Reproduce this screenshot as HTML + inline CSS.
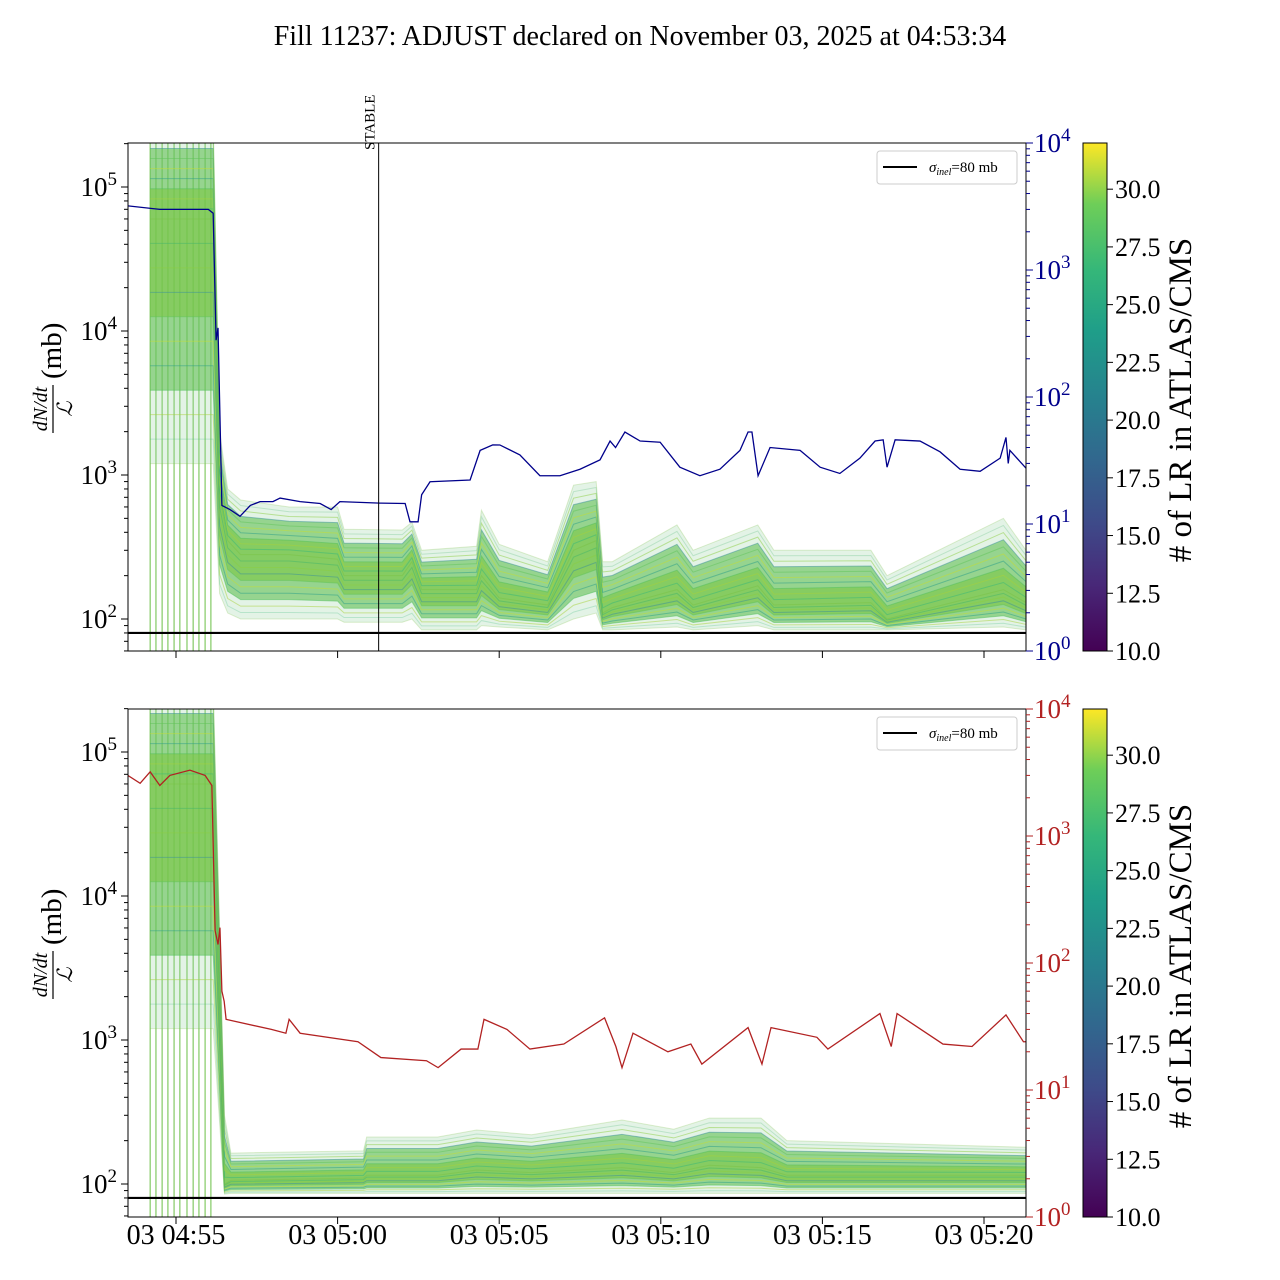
<!DOCTYPE html>
<html><head><meta charset="utf-8">
<style>
html,body{margin:0;padding:0;background:#fff;}
svg{display:block;font-family:"Liberation Serif","DejaVu Serif",serif;}
</style></head>
<body>
<svg id="chart" width="1280" height="1280" viewBox="0 0 1280 1280" xmlns="http://www.w3.org/2000/svg">
<defs>
<clipPath id="clipTop"><rect x="128" y="143" width="898" height="508"/></clipPath>
<clipPath id="clipBot"><rect x="128" y="709" width="898" height="508"/></clipPath>
<linearGradient id="viridis" x1="0" y1="1" x2="0" y2="0">
<stop offset="0" stop-color="#440154"/><stop offset="0.13" stop-color="#482878"/>
<stop offset="0.25" stop-color="#3e4a89"/><stop offset="0.38" stop-color="#31688e"/>
<stop offset="0.5" stop-color="#26828e"/><stop offset="0.63" stop-color="#1f9e89"/>
<stop offset="0.75" stop-color="#35b779"/><stop offset="0.88" stop-color="#6ece58"/>
<stop offset="1" stop-color="#fde725"/></linearGradient>
</defs>
<text x="640" y="45" font-size="28" text-anchor="middle">Fill 11237: ADJUST declared on November 03, 2025 at 04:53:34</text>
<g id="gTop"></g>
<g id="gBot"></g>
</svg>
<script>
// ---- data (time in minutes after 04:55) ----
const xTickLabels = ["03 04:55","03 05:00","03 05:05","03 05:10","03 05:15","03 05:20"];
const xTickTimes = [0,5,10,15,20,25];
const spikeTimes = [-0.80,-0.62,-0.43,-0.25,-0.06,0.12,0.34,0.53,0.71,0.90,1.08];
const blueT = [-1.49,-0.5,0.5,1.0,1.15,1.24,1.30,1.42,1.67,1.98,2.3,2.6,3.0,3.22,3.84,4.46,4.8,5.07,6.31,7.09,7.24,7.49,7.6,7.86,9.10,9.41,9.8,10.02,10.64,11.26,11.88,12.5,13.12,13.43,13.6,13.89,14.36,14.98,15.59,16.21,16.83,17.45,17.70,17.82,18.01,18.38,19.31,19.93,20.54,21.16,21.63,21.88,22.0,22.25,23.02,23.64,24.26,24.88,25.5,25.68,25.75,25.8,26.3];
const blueV = [3200,3000,3000,3000,2800,280,350,14,13,11.5,14,15,15,16,15,14.5,13,15,14.6,14.5,10.4,10.4,17,21.5,22.2,38,42,41.9,35,24,24,27,32,45,40,53,45,44,28,24,27,38,53,53,24,40,38,28,25,33,45,46,28,46,45,37,27,26,33,48,30,38,27.5];
const redT = [-1.49,-1.11,-0.8,-0.5,-0.19,0.43,0.9,1.11,1.21,1.30,1.36,1.42,1.49,1.55,2.95,3.4,3.5,3.84,5.63,6.34,7.75,8.11,8.82,9.34,9.53,10.24,10.95,12.0,13.26,13.61,13.80,14.14,15.22,15.93,16.27,17.70,18.13,18.41,19.83,20.17,21.78,22.13,22.31,23.73,24.63,25.68,26.22,26.3];
const redV = [3000,2600,3200,2500,3000,3300,3000,2500,180,140,190,60,50,36,30,28,36,28,24,18,17,15,21,21,36,30,21,23,37,22,15,28,20,23,16,31,16,31,26,21,40,22,40,23,22,39,24,24];
const topBandT = [-0.8,1.15,1.35,1.6,2.0,3.5,5.0,5.2,7.0,7.3,7.6,9.3,9.45,10.0,11.5,12.3,13.0,13.2,13.5,15.5,16.0,18.0,18.5,21.5,22.0,25.6,26.3];
const topBandUpper = [300000,300000,2000,800,670,600,600,420,415,470,300,320,570,330,250,850,900,250,250,450,300,450,300,300,200,500,300];
const topBandMedian = [60000,60000,700,350,280,280,260,200,200,250,160,160,200,140,125,300,350,110,120,160,125,170,125,130,100,160,130];
const topBandLower = [1200,1200,150,110,100,100,100,95,95,100,84,84,90,88,84,100,110,84,84,88,84,90,84,84,84,88,84];
const botBandT = [-0.8,1.15,1.5,1.7,5.8,5.9,8.1,9.3,11.0,13.8,15.4,16.5,18.1,18.9,26.3];
const botBandUpper = [300000,300000,300,164,170,212,212,237,220,278,240,287,287,200,180];
const botBandMedian = [60000,60000,100,106,110,115,115,125,120,130,120,135,130,115,115];
const botBandLower = [1200,1200,85,86,86,86,86,86,86,86,86,86,86,86,86];
const cbarTicks = [10.0,12.5,15.0,17.5,20.0,22.5,25.0,27.5,30.0];
const sigmaInel = 80;
const stableTime = 6.27;

const NS="http://www.w3.org/2000/svg";
const X0=128,X1=1026;
const xs = t => 176 + t*32.32;
function mk(parent, tag, attrs, text){const e=document.createElementNS(NS,tag);for(const k in attrs)e.setAttribute(k,attrs[k]);if(text!==undefined)e.textContent=text;parent.appendChild(e);return e;}
const panels=[
 {g:document.getElementById('gTop'),y0:143,y1:651,l2:619,clip:'clipTop',rcol:'#00008b',lineT:blueT,lineV:blueV,bT:topBandT,bU:topBandUpper,bM:topBandMedian,bL:topBandLower,name:'top',stable:true,xlabels:false},
 {g:document.getElementById('gBot'),y0:709,y1:1217,l2:1184,clip:'clipBot',rcol:'#b22222',lineT:redT,lineV:redV,bT:botBandT,bU:botBandUpper,bM:botBandMedian,bL:botBandLower,name:'bottom',stable:false,xlabels:true}
];
const bandCols=['#7ac143','#35b779','#a8d13a','#52c05e','#2a9d8a','#c6dd2f','#5fc35a','#3a8f99','#8ccd3f','#44b56a'];
panels.forEach(p=>{
 const yl = v => p.l2 - 144*(Math.log10(v)-2);
 const yr = v => p.y1 - 127*Math.log10(v);
 const g=p.g;
 const plot=mk(g,'g',{'clip-path':'url(#'+p.clip+')'});
 
 
 spikeTimes.forEach(t=>{const l=mk(plot,'line',{x1:xs(t),x2:xs(t),y1:p.y0,y2:p.y1,stroke:'#6abf45','stroke-width':1});
  
  });
 const interp=(f,i)=>{const L=Math.log10(p.bL[i]),M=Math.log10(p.bM[i]),U=Math.log10(p.bU[i]);
  return f<0.5? L+(M-L)*(f/0.5) : M+(U-M)*((f-0.5)/0.5);};
 const poly=(f1,f2)=>{let pts=[];for(let i=0;i<p.bT.length;i++)pts.push(xs(p.bT[i])+','+yl(Math.pow(10,interp(f2,i))));
  for(let i=p.bT.length-1;i>=0;i--)pts.push(xs(p.bT[i])+','+yl(Math.pow(10,interp(f1,i))));return pts.join(' ');};
 const outer=mk(plot,'polygon',{points:poly(0,1),fill:'#8fcf9a','fill-opacity':0.25});
 
 
 const mid=mk(plot,'polygon',{points:poly(0.15,0.85),fill:'#62bf55','fill-opacity':0.6});
 
 
 const core=mk(plot,'polygon',{points:poly(0.3,0.65),fill:'#7cc644','fill-opacity':0.6});
 
 
 for(let k=0;k<=20;k++){const f=k/20;let d='';
  for(let i=0;i<p.bT.length;i++){d+=(i?'L':'M')+xs(p.bT[i])+','+yl(Math.pow(10,interp(f,i)));}
  const pl=mk(plot,'path',{d:d,fill:'none',stroke:bandCols[k%bandCols.length],'stroke-width':1,'stroke-opacity':(f<0.1||f>0.9)?0.25:0.5});
  
  }
 const sl=mk(plot,'line',{x1:X0,x2:X1,y1:yl(sigmaInel),y2:yl(sigmaInel),stroke:'#000','stroke-width':2.2});
 
 
 let d='';p.lineT.forEach((t,i)=>{d+=(i?'L':'M')+xs(t)+','+yr(p.lineV[i]);});
 const rl=mk(plot,'path',{d:d,fill:'none',stroke:p.rcol,'stroke-width':1.3});
 
 
 if(p.stable){const st=mk(g,'line',{x1:xs(stableTime),x2:xs(stableTime),y1:p.y0,y2:p.y1,stroke:'#000','stroke-width':1});
  
  
  const stt=mk(g,'text',{x:0,y:0,'font-size':15,transform:'translate('+(xs(stableTime)-4)+',150) rotate(-90)'},'STABLE');
  
  }
 const fr=mk(g,'rect',{x:X0,y:p.y0,width:X1-X0,height:p.y1-p.y0,fill:'none',stroke:'#000','stroke-width':1});
 
 
 for(let e=1;e<=5;e++){for(let m=1;m<10;m++){const v=m*Math.pow(10,e);const y=yl(v);if(y<p.y0-0.5||y>p.y1+0.5)continue;
  mk(g,'line',{x1:X0,x2:X0-(m==1?7:4),y1:y,y2:y,stroke:'#000','stroke-width':1});
  if(m==1){const t=mk(g,'text',{x:X0-11,y:y+9,'font-size':27,'text-anchor':'end'});
   
   
   t.innerHTML='10<tspan dy="-11" font-size="19">'+e+'</tspan>';}}}
 for(let e=0;e<=4;e++){for(let m=1;m<10;m++){const v=m*Math.pow(10,e);const y=yr(v);if(y<p.y0-0.5)continue;
  mk(g,'line',{x1:X1,x2:X1+(m==1?7:4),y1:y,y2:y,stroke:p.rcol,'stroke-width':1});
  if(m==1){const t=mk(g,'text',{x:X1+8,y:y+9,'font-size':27,fill:p.rcol});
   
   
   t.innerHTML='10<tspan dy="-11" font-size="19">'+e+'</tspan>';}}}
 xTickTimes.forEach((t,i)=>{mk(g,'line',{x1:xs(t),x2:xs(t),y1:p.y1,y2:p.y1+7,stroke:'#000'});
  if(p.xlabels){const tl=mk(g,'text',{x:xs(t),y:p.y1+27,'font-size':28,'text-anchor':'middle'},xTickLabels[i]);
   
   }});
 const cy=(p.y0+p.y1)/2-6;
 const yg=mk(g,'g',{transform:'translate(55,'+cy+') rotate(-90)'});
 
 
 mk(yg,'text',{x:-18,y:-8,'font-size':20,'font-style':'italic','text-anchor':'middle'},'dN/dt');
 mk(yg,'line',{x1:-42,x2:6,y1:-2,y2:-2,stroke:'#000','stroke-width':1.2});
 mk(yg,'text',{x:-18,y:17,'font-size':21,'font-style':'italic','text-anchor':'middle'},'ℒ');
 mk(yg,'text',{x:12,y:6,'font-size':29},'(mb)');
 const lg=mk(g,'g',{});
 
 
 mk(lg,'rect',{x:877,y:p.y0+8,width:140,height:33,rx:3,fill:'#fff',stroke:'#ccc'});
 mk(lg,'line',{x1:883,x2:917,y1:p.y0+24,y2:p.y0+24,stroke:'#000','stroke-width':2});
 const lt=mk(lg,'text',{x:929,y:p.y0+29,'font-size':15});
 lt.innerHTML='<tspan font-style="italic">σ</tspan><tspan font-size="10" dy="3" font-style="italic">inel</tspan><tspan dy="-3">=80 mb</tspan>';
 const cb=mk(g,'rect',{x:1083,y:p.y0,width:24,height:p.y1-p.y0,fill:'url(#viridis)',stroke:'#000','stroke-width':1});
 
 
 const cyv=v=>p.y1-(v-10)*(p.y1-p.y0)/22.0;
 cbarTicks.forEach(v=>{const y=cyv(v);mk(g,'line',{x1:1107,x2:1113,y1:y,y2:y,stroke:'#000'});
  const t=mk(g,'text',{x:1115,y:y+9,'font-size':26},v.toFixed(1));
  
  });
 const ct=mk(g,'text',{x:0,y:0,'font-size':33,'text-anchor':'middle',transform:'translate(1191,'+((p.y0+p.y1)/2+3)+') rotate(-90)'},'# of LR in ATLAS/CMS');
 
 
});
</script>
</body></html>
